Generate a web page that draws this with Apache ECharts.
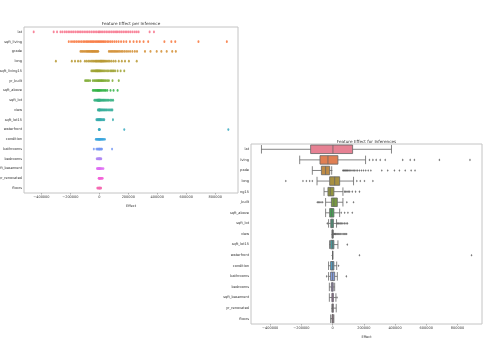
<!DOCTYPE html>
<html><head><meta charset="utf-8">
<script src="https://cdn.jsdelivr.net/npm/echarts@6/dist/echarts.min.js"></script>
<style>
html,body{margin:0;padding:0;background:#fff;}
#b{position:absolute;left:0;top:0;width:500px;height:355px;}
#a{position:absolute;left:0;top:0;width:240px;height:208px;background:#fff;z-index:2;}
</style></head><body>
<div id="b"></div><div id="a"></div>
<script>
// ---------------- DATA (values in thousands) ----------------
const features = ['lat','sqft_living','grade','long','sqft_living15','yr_built','sqft_above','sqft_lot','view','sqft_lot15','waterfront','condition','bathrooms','bedrooms','sqft_basement','yr_renovated','floors'];
const xTicks = [-400000, -200000, 0, 200000, 400000, 600000, 800000];

// strip plot: per-inference effects for each feature (thousands)
const stripValues = [
  /* lat */ [-453,-315,-292,-268,-255,-240,-228,-215,-203,-190,-178,-165,-152,-141,-130,-118,-105,-92,-80,-68,-55,-42,-30,-18,-6,2,12,24,36,48,60,72,84,96,108,118,128,140,152,165,178,190,203,216,230,245,258,271,347,377],
  /* sqft_living */ [-211,-195,-182,-170,-158,-146,-134,-122,-110,-100,-90,-81,-72,-63,-55,-47,-39,-30,-22,-14,-6,2,10,18,26,34,44,55,66,78,90,104,118,133,150,168,186,211,236,258,279,305,337,449,497,524,684,880],
  /* grade */ [-130,-122,-114,-106,-98,-90,-84,-78,-72,-66,-60,-55,-50,-45,-40,-35,-30,-25,-19,-14,-8,66,74,82,90,98,106,114,122,130,140,150,160,172,185,198,212,228,245,260,315,353,396,428,465,503,528],
  /* long */ [-300,-190,-168,-147,-130,-100,-88,-76,-65,-55,-46,-38,-30,-24,-19,-13,-7,-1,5,9,13,17,22,27,32,38,45,53,62,72,84,98,112,134,155,177,204,258],
  /* sqft_living15 */ [-55,-48,-42,-36,-30,-26,-22,-18,-15,-12,-8,-4,0,4,8,14,20,28,36,46,56,66,77,84,92,100,109,126,147,172],
  /* yr_built */ [-98,-90,-82,-74,-64,-45,-36,-28,-20,-14,-8,-3,2,8,13,18,24,30,38,46,56,66,91,134],
  /* sqft_above */ [-45,-38,-31,-25,-19,-14,-10,-6,-2,2,8,14,22,30,38,45,55,77,98,126],
  /* sqft_lot */ [-34,-26,-20,-15,-12,-9,-6,-4,-2,0,3,5,9,14,19,25,30,36,42,50,58,66,76,86,95],
  /* view */ [-10,-5,-2,0,2,6,10,15,20,26,32,38,45,52,60,68,76,84,90],
  /* sqft_lot15 */ [-20,-15,-11,-7,-4,-1,2,5,8,12,17,23,29,34,94],
  /* waterfront */ [-3,-1,0,1,3,172,890],
  /* condition */ [-24,-19,-14,-10,-6,-3,0,3,6,10,14,19,24,30,38],
  /* bathrooms */ [-38,-20,-14,-10,-6,-3,0,3,6,10,14,18,88],
  /* bedrooms */ [-18,-14,-10,-7,-4,-2,0,2,4,7,10,13],
  /* sqft_basement */ [-16,-12,-8,-5,-2,0,2,5,9,14,20,28],
  /* yr_renovated */ [-4,-1,0,2,4,7,10,14,18,23],
  /* floors */ [-14,-10,-6,-3,-1,1,3,6,9,12]
];

// box plot statistics (thousands)
const boxLow    = [-456,-211,-130,-100,-55,-45,-45,-26,-4,-20,0,-26,-26,-21,-21,-5,-13];
const boxQ1     = [-141, -81, -72, -19,-30, -8,-19,-12,-2,-13,0,-13,-13, -8, -5,-1, -4];
const boxMedian = [   2, -30, -45,  13,-15,  8, -6, -4, 0,  0,0,  0,  0, -2,  0, 2,  0];
const boxQ3     = [ 128,  34, -19,  45,  8, 30,  8,  5, 1,  8,0,  8, 13,  4,  5, 4,  4];
const boxHigh   = [ 377, 211,  -6, 134, 66, 66, 45, 25, 4, 34,0, 26, 30, 13, 21,23,  8];
const outlierValues = [
  /* lat */ [],
  /* sqft_living */ [236,258,279,305,337,449,497,524,684,880],
  /* grade */ [66,70,75,80,85,90,95,100,108,116,124,132,140,150,160,172,185,198,212,228,245,315,353,396,428,465,503,528],
  /* long */ [-300,-190,-168,-147,-130,155,177,204,258],
  /* sqft_living15 */ [77,84,92,100,109,126,147,172],
  /* yr_built */ [-98,-90,-82,-74,-64,91,134],
  /* sqft_above */ [55,77,98,126],
  /* sqft_lot */ [-34,30,36,42,50,58,66,76,86,95],
  /* view */ [8,12,16,20,26,32,38,45,52,60,68,76,84,90],
  /* sqft_lot15 */ [94],
  /* waterfront */ [172,890],
  /* condition */ [38],
  /* bathrooms */ [-38,88],
  /* bedrooms */ [],
  /* sqft_basement */ [28],
  /* yr_renovated */ [],
  /* floors */ []
];

// ---------------- COLOURS (seaborn husl palette) ----------------
const MM=[[3.240969941904521,-1.537383177570093,-0.498610760293],[-0.96924363628087,1.87596750150772,0.041555057407175],[0.055630079696993,-0.20397695888897,1.056971514242878]];
const refU=0.19783000664283, refV=0.46831999493879, kappa=903.2962962, eps=0.0088564516;
function bounds(L){const res=[];const sub1=Math.pow(L+16,3)/1560896;const sub2=sub1>eps?sub1:L/kappa;
  for(const r of MM){const m1=r[0],m2=r[1],m3=r[2];for(const t of [0,1]){
    const top1=(284517*m1-94839*m3)*sub2;const top2=(838422*m3+769860*m2+731718*m1)*L*sub2-769860*t*L;
    const bottom=(632260*m3-126452*m2)*sub2+126452*t;res.push([top1/bottom,top2/bottom]);}}return res;}
function maxC(L,H){const hr=H/180*Math.PI;let mn=Infinity;for(const b of bounds(L)){const len=b[1]/(Math.sin(hr)-b[0]*Math.cos(hr));if(len>=0)mn=Math.min(mn,len);}return mn;}
function hsluv(H,S,L){const C=maxC(L,H)/100*S;const hr=H/180*Math.PI;const U=Math.cos(hr)*C,V=Math.sin(hr)*C;
  const vu=U/(13*L)+refU,vv=V/(13*L)+refV;const Y=L<=8?L/kappa:Math.pow((L+16)/116,3);
  const X=0-(9*Y*vu)/((vu-4)*vv-vu*vv);const Z=(9*Y-15*vv*Y-vv*X)/(3*vv);
  return MM.map(r=>{let c=r[0]*X+r[1]*Y+r[2]*Z;c=c<=0.0031308?12.92*c:1.055*Math.pow(c,1/2.4)-0.055;return Math.min(1,Math.max(0,c));});}
function rgb2hls(r,g,b){const mx=Math.max(r,g,b),mn=Math.min(r,g,b);const l=(mx+mn)/2;if(mx===mn)return [0,l,0];const d=mx-mn;
  const s=l<=0.5?d/(mx+mn):d/(2-mx-mn);let h;if(mx===r)h=((g-b)/d)%6;else if(mx===g)h=(b-r)/d+2;else h=(r-g)/d+4;h/=6;if(h<0)h+=1;return [h,l,s];}
function hls2rgb(h,l,s){if(s===0)return [l,l,l];const q=l<0.5?l*(1+s):l+s-l*s;const p=2*l-q;
  const f=t=>{t=((t%1)+1)%1;if(t<1/6)return p+(q-p)*6*t;if(t<0.5)return q;if(t<2/3)return p+(q-p)*(2/3-t)*6;return p;};return [f(h+1/3),f(h),f(h-1/3)];}
const hex=c=>'#'+c.map(v=>Math.round(v*255).toString(16).padStart(2,'0')).join('');
const nFeat=features.length;
const pal=[], boxPal=[];
for(let i=0;i<nFeat;i++){let h=(i/nFeat+0.01)%1*359;const rgb=hsluv(h,0.9*99,0.65*99);pal.push(hex(rgb));
  const hls=rgb2hls(rgb[0],rgb[1],rgb[2]);boxPal.push(hex(hls2rgb(hls[0],hls[1],hls[2]*0.75)));}

// ---------------- CHARTS ----------------
const FONT='DejaVu Sans', TXT='#333';
const fmt=v=>v<0?'\u2212'+Math.abs(v):String(v);
function xAxisCfg(min,max,gap){return {type:'value',min:min,max:max,axisLine:{show:false},splitLine:{show:false},
  axisTick:{show:true,customValues:xTicks,length:1.5,lineStyle:{color:'#888',width:0.6}},
  axisLabel:{customValues:xTicks,formatter:fmt,fontFamily:FONT,fontSize:3.5,color:TXT,margin:2},
  name:'Effect',nameLocation:'middle',nameGap:gap,nameTextStyle:{fontFamily:FONT,fontSize:3.5,color:TXT}};}
function yAxisCfg(){return {type:'category',data:features,inverse:true,axisLine:{show:false},splitLine:{show:false},
  axisTick:{show:true,length:1.5,alignWithLabel:true,lineStyle:{color:'#888',width:0.6}},
  axisLabel:{interval:0,fontFamily:FONT,fontSize:3.5,color:TXT,margin:2}};}

const chartTop = echarts.init(document.getElementById('a'));
chartTop.setOption({
  animation:false,
  graphic:[{type:'text',x:131,y:24,style:{text:'Feature Effect per Inference',align:'center',verticalAlign:'middle',font:'4.2px "DejaVu Sans"',fill:TXT}}],
  grid:{left:24,top:27,width:214,height:166,show:true,borderColor:'#c4c4c4',borderWidth:1,outerBoundsMode:'none',containLabel:false},
  xAxis:xAxisCfg(-520000,957000,7),
  yAxis:yAxisCfg(),
  series:features.map((f,i)=>({type:'scatter',silent:true,symbol:'circle',symbolSize:[2,2.8],
    itemStyle:{color:pal[i],opacity:0.85},data:stripValues[i].map(v=>[v*1000,f])}))
});

const chartBot = echarts.init(document.getElementById('b'));
const boxData = features.map((f,i)=>({value:[boxLow[i],boxQ1[i],boxMedian[i],boxQ3[i],boxHigh[i]].map(v=>v*1000),
  itemStyle:{color:boxPal[i],borderColor:'#666',borderWidth:0.8}}));
const outData=[];features.forEach((f,i)=>outlierValues[i].forEach(v=>outData.push([v*1000,f])));
chartBot.setOption({
  animation:false,
  graphic:[{type:'text',x:366.5,y:141.5,style:{text:'Feature Effect for Inferences',align:'center',verticalAlign:'middle',font:'4.2px "DejaVu Sans"',fill:TXT}}],
  grid:{left:251,top:144,width:231,height:180,show:true,borderColor:'#c4c4c4',borderWidth:1,outerBoundsMode:'none',containLabel:false},
  xAxis:xAxisCfg(-523000,957000,6),
  yAxis:yAxisCfg(),
  series:[
    {type:'boxplot',layout:'horizontal',silent:true,boxWidth:[8.5,8.5],data:boxData},
    {type:'scatter',silent:true,symbol:'diamond',symbolSize:[1.8,2.6],itemStyle:{color:'#555'},data:outData}
  ]
});
</script></body></html>
